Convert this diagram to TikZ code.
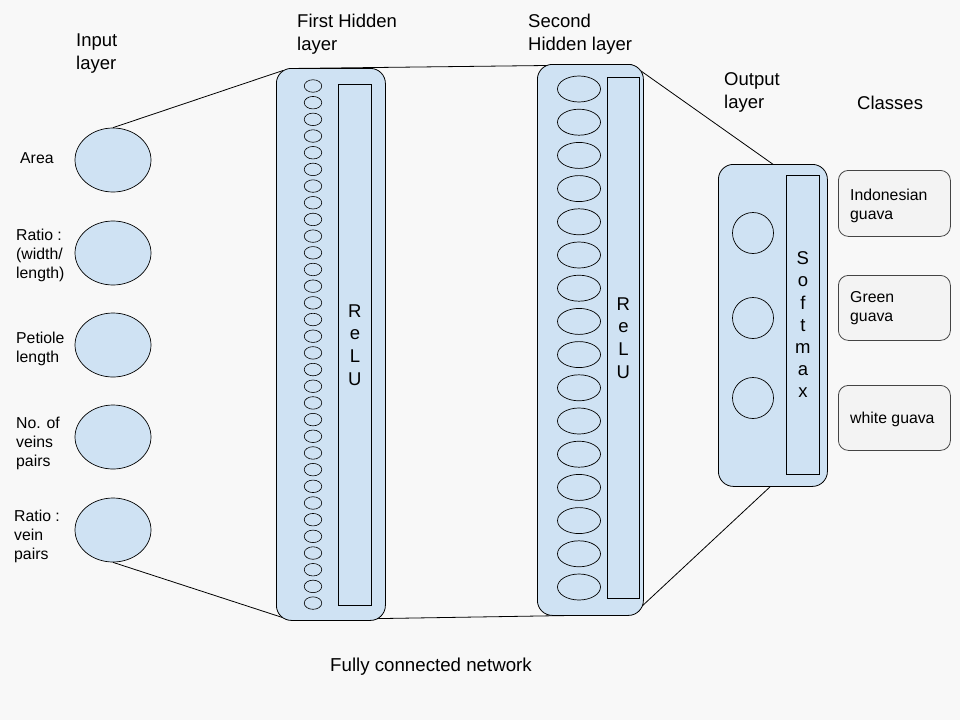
\documentclass[tikz,border=0pt]{standalone}
\usepackage{fontspec}
\setmainfont{Liberation Sans}
\usetikzlibrary{shapes.geometric}
\definecolor{bgc}{HTML}{F8F8F8}
\definecolor{pan}{HTML}{CFE2F3}
\definecolor{clsfill}{HTML}{F3F3F3}
\definecolor{clsdraw}{HTML}{444444}
\begin{document}
\begin{tikzpicture}[x=1pt,y=-1pt,
  panel/.style={draw=black, fill=pan, rounded corners=15pt, line width=0.8pt, inner sep=0pt, anchor=north west},
  actbox/.style={draw=black, line width=0.8pt, inner sep=0pt, anchor=north west, align=center,
     font=\fontsize{18.5}{22.6}\selectfont},
  neuron/.style={ellipse, draw=black, fill=pan, line width=0.7pt, inner sep=0pt},
  clsbox/.style={draw=clsdraw, fill=clsfill, rounded corners=10pt, line width=0.8pt, inner sep=0pt,
     anchor=north west, minimum width=112pt},
  head/.style={font=\fontsize{18.5}{23}\selectfont, align=left, anchor=north west, inner sep=0pt},
  lab/.style={font=\fontsize{15.8}{19}\selectfont, align=left, anchor=north west, inner sep=0pt},
  conn/.style={draw=black, line width=0.8pt}
]
\fill[bgc] (0,0) rectangle (960,720);
\useasboundingbox (0,0) rectangle (960,720);

% input neurons
\foreach \i/\y in {1/160,2/253,3/345,4/437,5/530}{
  \node[neuron, minimum width=76pt, minimum height=64pt] (in\i) at (113,\y) {};
}

% connector end points
\coordinate (fhTL) at (283,70.5);
\coordinate (fhBL) at (284,618);
\coordinate (fhTR) at (290,68.5);
\coordinate (fhBR) at (290,620);
\coordinate (shTL) at (632,64.5);
\coordinate (shBL) at (632,614.5);
\coordinate (shTR) at (641,71);
\coordinate (shBR) at (640,608);
\coordinate (opT) at (774,165);
\coordinate (opB) at (772,485);

\draw[conn] (in1.north) -- (fhTL);
\draw[conn] (in5.south) -- (fhBL);
\draw[conn] (fhTR) -- (shTL);
\draw[conn] (fhBR) -- (shBL);
\draw[conn] (shTR) -- (opT);
\draw[conn] (shBR) -- (opB);

% panels
\node[panel, minimum width=109pt, minimum height=552pt] (fh) at (276,68) {};
\node[panel, minimum width=106pt, minimum height=551pt] (sh) at (537,64) {};
\node[panel, minimum width=109pt, minimum height=322pt] (op) at (718,164) {};

% activation boxes
\node[actbox, minimum width=33pt, minimum height=521pt] (relu1) at (338,84) {R\\e\\L\\U};
\node[actbox, minimum width=32pt, minimum height=521pt] (relu2) at (607,77) {R\\e\\L\\U};
\node[actbox, minimum width=33pt, minimum height=299pt, font=\fontsize{18.5}{22.2}\selectfont] (smax) at (786,175) {S\\o\\f\\t\\m\\a\\x};

% first hidden neurons
\foreach \i in {0,...,31}{
  \node[neuron, minimum width=17.5pt, minimum height=12.5pt, line width=0.6pt] (h1n\i) at (313,{86+\i*16.68}) {};
}
% second hidden neurons
\foreach \i in {0,...,15}{
  \node[neuron, minimum width=43pt, minimum height=26pt] (h2n\i) at (579,{89+\i*33.2}) {};
}
% output neurons
\foreach \i/\y in {1/233,2/318,3/398}{
  \node[neuron, minimum width=41pt, minimum height=41pt] (on\i) at (753,\y) {};
}

% classes
\node[clsbox, minimum height=66pt] (c1) at (838,170) {};
\node[clsbox, minimum height=65pt] (c2) at (838,275) {};
\node[clsbox, minimum height=65pt] (c3) at (838,385) {};
\node[lab] (c1t) at (850,188.5) {Indonesian\\guava};
\node[lab] (c2t) at (850,291.5) {Green\\guava};
\node[lab] (c3t) at (850,411.5) {white guava};

% headers
\node[head] (hin) at (76,33.5) {Input\\layer};
\node[head] (hfh) at (297,13.5) {First Hidden\\layer};
\node[head] (hsh) at (528,13.5) {Second\\Hidden layer};
\node[head] (hop) at (724,72.5) {Output\\layer};
\node[head] (hcl) at (857,95.5) {Classes};
\node[head, anchor=north, font=\fontsize{18.7}{23}\selectfont] (hfc) at (431,658) {Fully connected network};

% input labels
\node[lab] (l1) at (20,152.5) {Area};
\node[lab] (l2) at (16,228.5) {Ratio :\\(width/\\length)};
\node[lab] (l3) at (16,331.5) {Petiole\\length};
\node[lab] (l4) at (16,416.5) {No. of\\veins\\pairs};
\node[lab] (l5) at (14,509.5) {Ratio :\\vein\\pairs};
\end{tikzpicture}
\end{document}
